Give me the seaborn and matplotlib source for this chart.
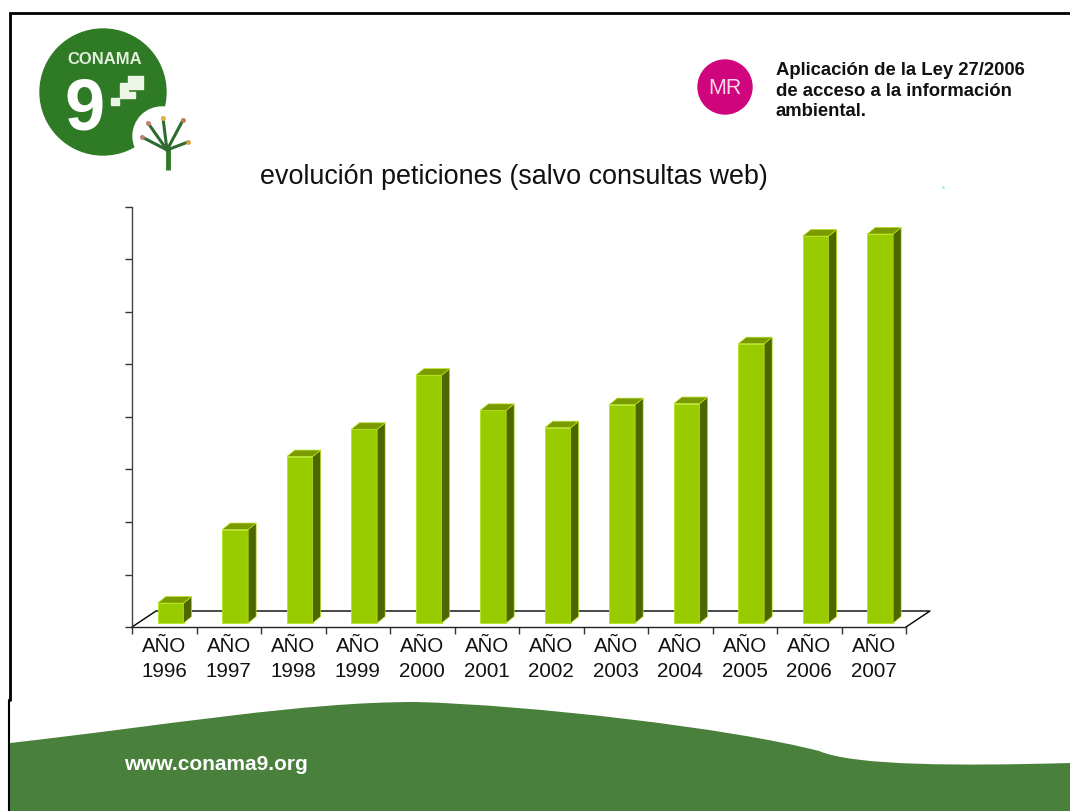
import numpy as np
import pandas as pd
import seaborn as sns
import matplotlib.pyplot as plt
from matplotlib.patches import Circle, Polygon, Rectangle
from matplotlib.path import Path
from matplotlib.patches import PathPatch

# values, in axis tick units (the axis has no numbers)
years = ["1996", "1997", "1998", "1999", "2000", "2001", "2002", "2003", "2004", "2005", "2006", "2007"]
values = [0.38, 1.78, 3.17, 3.69, 4.72, 4.05, 3.72, 4.16, 4.18, 5.32, 7.37, 7.41]
labels = ["AÑO\n" + y for y in years]

W, H = 1070, 811
FRONT = "#99CC00"
SIDE = "#4D6600"
TOP = "#7A9A00"
EDGE = "#B4E41E"

sns.set_theme(style="white")
plt.rcParams["font.family"] = ["Liberation Sans", "DejaVu Sans"]

fig = plt.figure(figsize=(W / 100, H / 100), dpi=100, facecolor="white")

# page furniture, in pixel coordinates
bg = fig.add_axes([0, 0, 1, 1])
bg.set_xlim(0, W)
bg.set_ylim(H, 0)
bg.axis("off")

# frame
bg.plot([10, 10, W], [700, 12.5, 12.5], color="black", lw=2, solid_joinstyle="miter")
bg.plot([9, 9], [700, H], color="black", lw=1.5)

# bottom banner
banner = Path(
    [(10, 743), (170, 725), (300, 702), (416, 702), (530, 705), (730, 728), (819, 751),
     (855, 766), (960, 766), (1070, 763), (1070, 811), (10, 811), (10, 743)],
    [Path.MOVETO, Path.CURVE4, Path.CURVE4, Path.CURVE4, Path.CURVE4, Path.CURVE4, Path.CURVE4,
     Path.CURVE4, Path.CURVE4, Path.CURVE4, Path.LINETO, Path.LINETO, Path.CLOSEPOLY],
)
bg.add_patch(PathPatch(banner, facecolor="#48803C", edgecolor="none"))
bg.text(124, 764, "www.conama9.org", color="white", fontsize=15, fontweight="bold", va="center")

# logo
bg.add_patch(Circle((103, 92), 63, color="#2F7A25"))
bg.add_patch(Circle((162, 136), 29, color="white"))
bg.text(105, 60, "CONAMA", color="#E4EEDC", fontsize=12, fontweight="bold", ha="center", va="center")
bg.text(85, 111, "9", color="white", fontsize=52, fontweight="bold", ha="center", va="center")
for sx, sy, sw, sh in [(111, 98, 8, 7), (120, 92, 15, 6), (120, 83, 8, 9), (128, 76, 15, 13)]:
    bg.add_patch(Rectangle((sx, sy), sw, sh, color="#EDF5E6"))
bg.plot([168, 168], [170, 148], color="#2F7A25", lw=3.5, solid_capstyle="butt")
for tx, ty, c in [(148, 123, "#C08070"), (163, 118, "#E8B040"), (183, 120, "#C08050"), (188, 142, "#D8A040"), (142, 137, "#C08070")]:
    bg.plot([167, tx], [150, ty], color="#2F6A30", lw=2.2)
    bg.plot([tx], [ty], marker="o", ms=3.5, color=c, mec="none")

# MR badge and heading
bg.add_patch(Circle((725, 87), 27, color="#D0047C"))
bg.text(725, 88, "MR", color="#F6D8E8", fontsize=15.5, ha="center", va="center")
bg.text(776, 91, "Aplicación de la Ley 27/2006\nde acceso a la información\nambiental.", color="#111111",
        fontsize=13.3, fontweight="bold", va="center", linespacing=1.27)
bg.text(514, 177, "evolución peticiones (salvo consultas web)", color="#111111", fontsize=19.4, ha="center", va="center")
bg.plot([943], [187], marker="s", ms=1.5, color="#66DDEE", mec="none")

# chart panel
ax = fig.add_axes([132 / W, 1 - 627 / H, (906 - 132) / W, (627 - 207) / H])
ax.patch.set_alpha(0)
df = pd.DataFrame({"year": labels, "value": values})
sns.barplot(data=df, x="year", y="value", color=FRONT, saturation=1, width=0.4, ax=ax, zorder=3)
ax.set_xlim(-0.5, 11.5)
ax.set_ylim(0, 8)
ax.set_xlabel("")
ax.set_ylabel("")

# fake 3d: depth in data units, one px is 1/64.5 on x and 1/52.5 on y
dx, dy = 8 / 64.5, 6.5 / 52.5
shift_x, shift_y = 6.5 / 64.5, 4 / 52.5
for p in ax.patches:
    p.set_x(p.get_x() + shift_x)
    p.set_y(shift_y)
    p.set_edgecolor(EDGE)
    p.set_linewidth(0.6)
    x0, x1 = p.get_x(), p.get_x() + p.get_width()
    y0, y1 = shift_y, shift_y + p.get_height()
    ax.add_patch(Polygon([(x1, y0), (x1 + dx, y0 + dy), (x1 + dx, y1 + dy), (x1, y1)],
                         facecolor=SIDE, edgecolor=EDGE, lw=0.5, zorder=3))
    ax.add_patch(Polygon([(x0, y1), (x0 + dx, y1 + dy), (x1 + dx, y1 + dy), (x1, y1)],
                         facecolor=TOP, edgecolor=EDGE, lw=0.5, zorder=3))

# floor of the 3d box
fdx, fdy = 24 / 64.5, 16 / 52.5
ax.plot([-0.5, -0.5 + fdx, 11.5 + fdx, 11.5], [0, fdy, fdy, 0], color="black", lw=1, clip_on=False, zorder=2)

for s in ["top", "right"]:
    ax.spines[s].set_visible(False)
ax.spines["left"].set_color("#444444")
ax.spines["bottom"].set_color("#222222")
ax.spines["left"].set_linewidth(1)
ax.spines["bottom"].set_linewidth(1)
ax.set_yticks(range(0, 9))
ax.set_yticklabels([])
ax.set_xticks(np.arange(-0.5, 12, 1), minor=True)
ax.set_xticks(range(len(labels)))
ax.set_xticklabels(labels)
ax.tick_params(axis="x", which="major", length=0, pad=7, labelsize=14.8, labelcolor="#111111")
ax.tick_params(axis="x", which="minor", bottom=True, length=5, width=1, color="#333333")
ax.tick_params(axis="y", left=True, length=5, width=1, color="#333333")
for t in ax.get_xticklabels():
    t.set_linespacing(1.45)

fig.savefig("out.png", dpi=100)
